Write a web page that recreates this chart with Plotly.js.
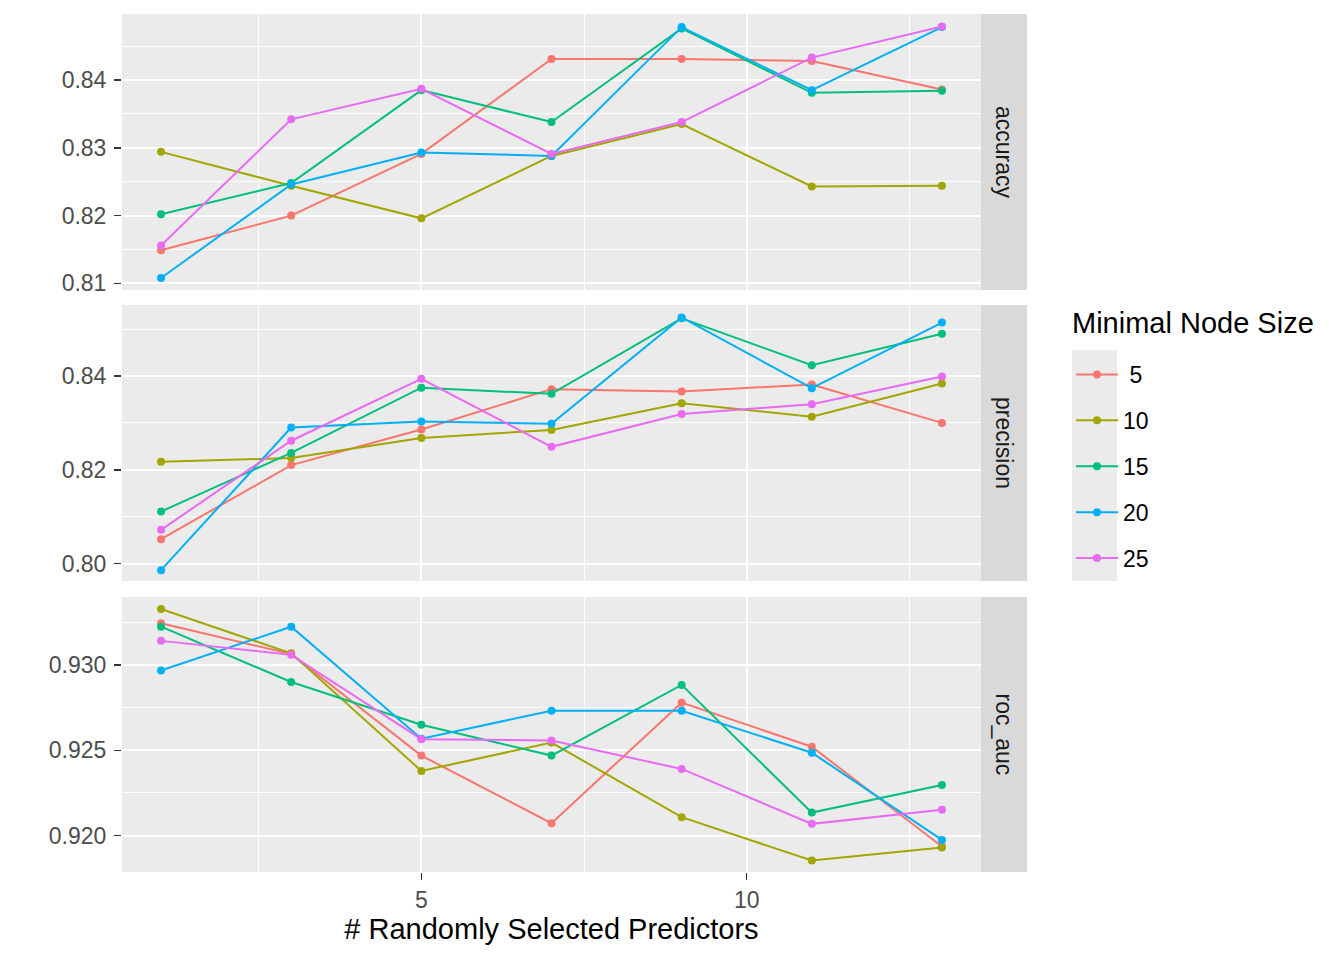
<!DOCTYPE html>
<html>
<head>
<meta charset="utf-8">
<script src="https://cdn.plot.ly/plotly-3.0.1.min.js"></script>
<style>html,body{margin:0;padding:0;background:#fff;}#chart{width:1344px;height:960px;}</style>
</head>
<body>
<div id="chart"></div>
<script>
// ---- data ----
const mtry = [1, 3, 5, 7, 9, 11, 13];
const nodeSizes = ['\u00a05', '10', '15', '20', '25'];
const seriesColors = ['#F8766D', '#A3A500', '#00BF7D', '#00B0F6', '#E76BF3'];
const metricNames = ['accuracy', 'precision', 'roc_auc'];

const accuracy5  = [0.8149, 0.8200, 0.8291, 0.8431, 0.8431, 0.8428, 0.8386];
const accuracy10 = [0.8294, 0.8244, 0.8196, 0.8288, 0.8335, 0.8243, 0.8244];
const accuracy15 = [0.8202, 0.8248, 0.8385, 0.8338, 0.8476, 0.8381, 0.8384];
const accuracy20 = [0.8108, 0.8246, 0.8293, 0.8288, 0.8478, 0.8385, 0.8478];
const accuracy25 = [0.8156, 0.8342, 0.8387, 0.8291, 0.8338, 0.8433, 0.8479];

const precision5  = [0.8052, 0.8210, 0.8286, 0.8372, 0.8367, 0.8382, 0.8300];
const precision10 = [0.8217, 0.8225, 0.8268, 0.8285, 0.8342, 0.8313, 0.8384];
const precision15 = [0.8111, 0.8236, 0.8375, 0.8362, 0.8523, 0.8423, 0.8490];
const precision20 = [0.7986, 0.8290, 0.8303, 0.8298, 0.8525, 0.8374, 0.8514];
const precision25 = [0.8072, 0.8262, 0.8394, 0.8249, 0.8319, 0.8340, 0.8399];

const rocauc5  = [0.93244, 0.93064, 0.92469, 0.92073, 0.92779, 0.92521, 0.91936];
const rocauc10 = [0.93328, 0.93068, 0.92379, 0.92545, 0.92108, 0.91854, 0.91930];
const rocauc15 = [0.93224, 0.92900, 0.92650, 0.92469, 0.92883, 0.92135, 0.92297];
const rocauc20 = [0.92967, 0.93224, 0.92568, 0.92732, 0.92732, 0.92486, 0.91975];
const rocauc25 = [0.93141, 0.93059, 0.92565, 0.92557, 0.92391, 0.92069, 0.92151];

const accuracyValues = [accuracy5, accuracy10, accuracy15, accuracy20, accuracy25];
const precisionValues = [precision5, precision10, precision15, precision20, precision25];
const rocaucValues = [rocauc5, rocauc10, rocauc15, rocauc20, rocauc25];

const accTicks = [0.81, 0.82, 0.83, 0.84];
const precTicks = [0.80, 0.82, 0.84];
const rocTicks = [0.920, 0.925, 0.930];
const xTicks = [5, 10];

// ---- build ----
const FONT = '"Liberation Sans", Arial, sans-serif';
const W = 1344, H = 960;
const px = v => v / W;
const py = v => 1 - v / H;

const panels = [
  {vals: accuracyValues, yaxis: 'y', top: 14, bottom: 290},
  {vals: precisionValues, yaxis: 'y2', top: 305, bottom: 581},
  {vals: rocaucValues, yaxis: 'y3', top: 597, bottom: 872}
];

const traces = [];
panels.forEach((p, pi) => {
  p.vals.forEach((vals, si) => {
    traces.push({
      type: 'scatter', mode: 'lines+markers',
      x: mtry, y: vals, xaxis: 'x', yaxis: p.yaxis,
      name: nodeSizes[si], legendgroup: 'g' + si,
      showlegend: pi === 0,
      line: {color: seriesColors[si], width: 2},
      marker: {color: seriesColors[si], size: 8}
    });
  });
});

function yAxis(domain, range, ticks, fmt, minorVals) {
  return {
    domain: domain, range: range, autorange: false,
    tickvals: ticks, tickformat: fmt,
    ticks: 'outside', ticklen: 7, tickwidth: 1.5, tickcolor: '#333333',
    ticklabelstandoff: 3,
    tickfont: {family: FONT, size: 23, color: '#4D4D4D'},
    showgrid: true, gridcolor: '#FFFFFF', gridwidth: 2,
    minor: {tickvals: minorVals, showgrid: true, gridcolor: '#FFFFFF', gridwidth: 1, ticks: ''},
    zeroline: false, showline: false, automargin: false, fixedrange: true
  };
}

const xDomain = [px(122), px(981)];
const layout = {
  width: W, height: H,
  margin: {l: 0, r: 0, t: 0, b: 0},
  paper_bgcolor: '#FFFFFF', plot_bgcolor: '#EBEBEB',
  font: {family: FONT},
  showlegend: true,
  xaxis: {
    domain: xDomain, range: [0.4, 13.6], anchor: 'y3',
    tickvals: xTicks,
    ticks: 'outside', ticklen: 7, tickwidth: 1.5, tickcolor: '#333333',
    tickfont: {family: FONT, size: 23, color: '#4D4D4D'},
    showgrid: true, gridcolor: '#FFFFFF', gridwidth: 2,
    minor: {tickvals: [2.5, 7.5, 12.5], showgrid: true, gridcolor: '#FFFFFF', gridwidth: 1, ticks: ''},
    zeroline: false, showline: false, automargin: false, fixedrange: true,
    title: {text: '# Randomly Selected Predictors', font: {family: FONT, size: 29, color: '#000000'}, standoff: 7}
  },
  yaxis: yAxis([py(290), py(14)], [0.80903, 0.84973], accTicks, '.2f', [0.815, 0.825, 0.835, 0.845]),
  yaxis2: yAxis([py(581), py(305)], [0.79629, 0.85514], precTicks, '.2f', [0.81, 0.83, 0.85]),
  yaxis3: yAxis([py(872), py(597)], [0.91787, 0.93398], rocTicks, '.3f', [0.9225, 0.9275, 0.9325]),
  legend: {
    x: px(1071), y: py(353), xanchor: 'left', yanchor: 'top',
    bgcolor: 'rgba(0,0,0,0)', borderwidth: 0,
    traceorder: 'grouped', tracegroupgap: 13, itemwidth: 42,
    font: {family: FONT, size: 23, color: '#000000'},
    itemclick: false, itemdoubleclick: false
  },
  shapes: [],
  annotations: [{
    xref: 'paper', yref: 'paper', showarrow: false,
    x: px(1070), y: py(323), xanchor: 'left', yanchor: 'middle',
    text: 'Minimal Node Size',
    font: {family: FONT, size: 29, color: '#000000'}
  }]
};

panels.forEach((p, pi) => {
  layout.shapes.push({
    type: 'rect', xref: 'paper', yref: 'paper', layer: 'below',
    x0: px(981), x1: px(1027), y0: py(p.bottom), y1: py(p.top),
    fillcolor: '#D9D9D9', line: {width: 0}
  });
  layout.annotations.push({
    xref: 'paper', yref: 'paper', showarrow: false,
    x: px(1004), y: py((p.top + p.bottom) / 2),
    xanchor: 'center', yanchor: 'middle',
    text: metricNames[pi], textangle: 90,
    font: {family: FONT, size: 23, color: '#1A1A1A'}
  });
});
// legend key background
layout.shapes.push({
  type: 'rect', xref: 'paper', yref: 'paper', layer: 'below',
  x0: px(1072), x1: px(1117), y0: py(581), y1: py(350),
  fillcolor: '#EBEBEB', line: {width: 0}
});

Plotly.newPlot('chart', traces, layout, {staticPlot: true, displayModeBar: false});
</script>
</body>
</html>
